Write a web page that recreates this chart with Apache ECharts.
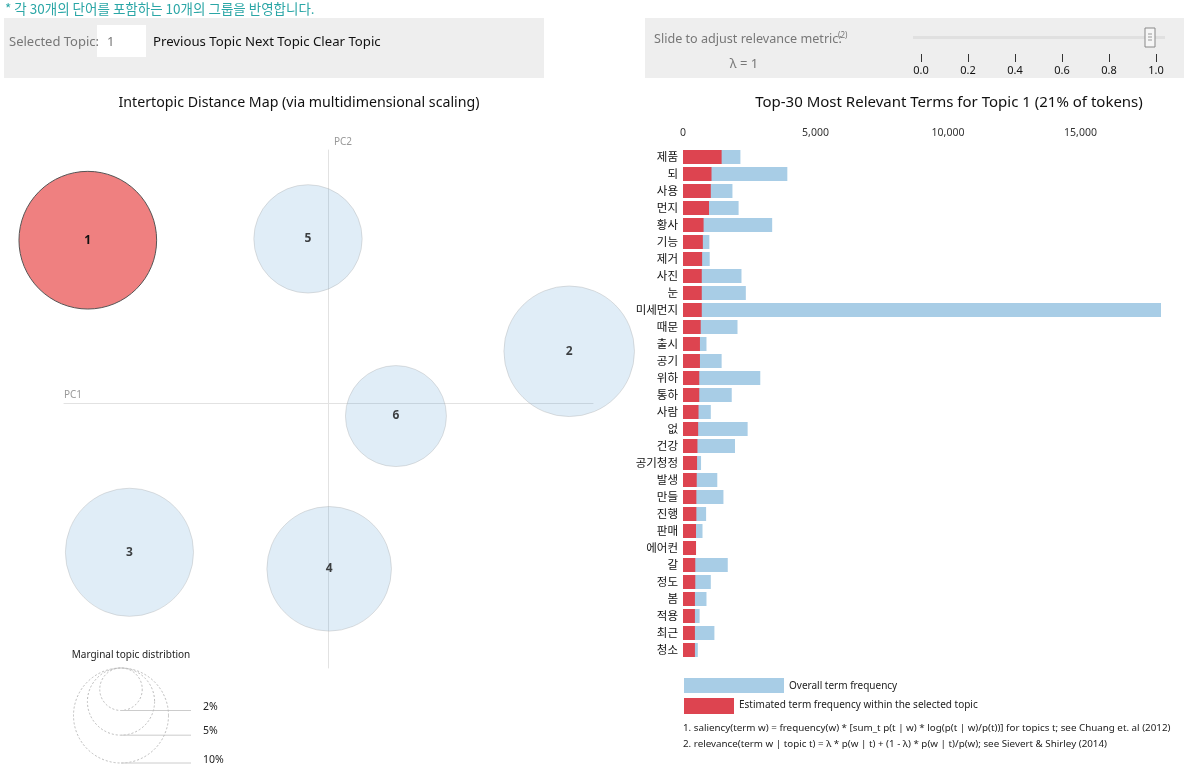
<!DOCTYPE html>
<html>
<head>
<meta charset="utf-8">
<script src="https://cdn.jsdelivr.net/npm/echarts/dist/echarts.min.js"></script>
<style>
html,body{margin:0;padding:0;background:#fff;}
#chart{width:1185px;height:769px;}
</style>
</head>
<body>
<div id="chart"></div>
<script>
// ---------- data ----------
const topicIds = ['1', '2', '3', '4', '5', '6'];
const topicPC1 = [-0.364, 0.364, -0.301, 0.001, -0.031, 0.102];
const topicPC2 = [0.247, 0.079, -0.225, -0.250, 0.249, -0.019];
const topicShare = [21, 18.9, 18.2, 17.2, 13.0, 11.3]; // % of tokens
const selectedTopic = '1';

const terms = ['제품','되','사용','먼지','황사','기능','제거','사진','눈','미세먼지',
  '때문','출시','공기','위하','통하','사람','없','건강','공기청정','발생',
  '만들','진행','판매','에어컨','갈','정도','봄','적용','최근','청소'];
const overallFreq = [2166,3937,1866,2098,3365,995,1008,2207,2371,18038,
  2057,886,1458,2916,1839,1049,2439,1962,681,1294,
  1526,872,736,495,1689,1049,886,627,1185,559];
const topicFreq = [1458,1076,1049,981,777,749,722,708,708,708,
  668,640,640,613,613,586,572,545,531,518,
  504,504,490,490,463,463,450,450,450,450];

const freqTicks = [0, 5000, 10000, 15000];
const lambdaTicks = [0, 0.2, 0.4, 0.6, 0.8, 1.0];
const legendShares = [2, 5, 10];

// ---------- layout / style ----------
const FONT = "'Noto Sans', 'Noto Sans CJK KR', sans-serif";
const KFONT = "'Noto Sans CJK KR', 'Noto Sans', sans-serif";
const R10 = 47.5; // radius (px) of a 10% topic
function radiusOf(p) { return R10 * Math.sqrt(p / 10); }

const scatterData = topicIds.map((id, i) => ({
  name: id,
  value: [topicPC1[i], topicPC2[i], topicShare[i]],
  itemStyle: id === selectedTopic
    ? { color: '#EF8080', borderColor: '#555', borderWidth: 1, opacity: 1 }
    : { color: 'rgba(40,130,200,0.18)', borderColor: 'rgba(170,170,170,0.45)', borderWidth: 1 }
}));

const graphics = [];
function txt(x, y, text, size, color, align, extra) {
  graphics.push(Object.assign({
    type: 'text', x: x, y: y, silent: true,
    style: Object.assign({
      text: text, font: size + 'px ' + FONT, fill: color,
      align: align || 'left', textAlign: align || 'left',
      verticalAlign: 'middle', textVerticalAlign: 'middle'
    }, extra || {})
  }));
}
function rect(x, y, w, h, fill, stroke, z) {
  graphics.push({ type: 'rect', silent: true, z: z || 0, shape: { x: x, y: y, width: w, height: h },
    style: { fill: fill, stroke: stroke || null, lineWidth: stroke ? 1 : 0 } });
}

// header note
txt(5, 9, '* 각 30개의 단어를 포함하는 10개의 그룹을 반영합니다.', 13.5, '#2aa6a6', 'left', { font: '13.5px ' + KFONT });
// panels
rect(4, 18, 540, 60, '#eeeeee');
rect(645, 18, 539, 60, '#eeeeee');
rect(97, 25, 49, 32, '#ffffff');
txt(9, 42, 'Selected Topic:', 13, '#777', 'left');
txt(107, 42, '1', 13, '#777', 'left');
txt(153, 42, 'Previous Topic Next Topic Clear Topic', 13.2, '#111', 'left');
txt(654, 39, 'Slide to adjust relevance metric:', 12.6, '#777', 'left');
txt(838, 36, '(2)', 8, '#777', 'left');
txt(744, 64, 'λ = 1', 13, '#777', 'center');
// slider track & handle
rect(913, 36, 252, 3, '#e0e0e0');
graphics.push({ type: 'rect', silent: true, z: 5, shape: { x: 1145, y: 28, width: 10, height: 19 },
  style: { fill: '#f6f6f6', stroke: '#888', lineWidth: 1 } });
[34, 37, 40].forEach(yy => graphics.push({ type: 'line', silent: true, z: 6,
  shape: { x1: 1148, y1: yy, x2: 1152, y2: yy }, style: { stroke: '#999', lineWidth: 1 } }));

// titles
txt(299, 103, 'Intertopic Distance Map (via multidimensional scaling)', 14.2, '#111', 'center');
txt(949, 103, 'Top-30 Most Relevant Terms for Topic 1 (21% of tokens)', 15, '#111', 'center');
// PC labels
txt(64, 395, 'PC1', 10, '#999', 'left');
txt(334, 142, 'PC2', 10, '#999', 'left');

// marginal topic distribution legend
txt(131, 655, 'Marginal topic distribtion', 10, '#222', 'center');
const legTop = 668, legCx = 121;
const legLabelY = [707, 731, 760];
legendShares.forEach((p, i) => {
  const r = radiusOf(p);
  graphics.push({ type: 'circle', silent: true, shape: { cx: legCx, cy: legTop + r, r: r },
    style: { fill: null, stroke: '#bbb', lineWidth: 1, lineDash: [2, 2] } });
  graphics.push({ type: 'line', silent: true, shape: { x1: legCx, y1: legTop + 2 * r, x2: 191, y2: legTop + 2 * r },
    style: { stroke: '#ccc', lineWidth: 1 } });
  txt(203, legLabelY[i], p + '%', 10.5, '#222', 'left');
});

// bar legend + footnotes
rect(684, 678, 100, 15, '#A8CDE6');
txt(789, 686, 'Overall term frequency', 10, '#222', 'left');
rect(684, 698, 50, 16, '#DD4450');
txt(739, 705, 'Estimated term frequency within the selected topic', 10, '#222', 'left');
txt(683, 728, '1. saliency(term w) = frequency(w) * [sum_t p(t | w) * log(p(t | w)/p(t))] for topics t; see Chuang et. al (2012)', 9.8, '#222', 'left');
txt(683, 744, '2. relevance(term w | topic t) = λ * p(w | t) + (1 - λ) * p(w | t)/p(w); see Sievert & Shirley (2014)', 9.8, '#222', 'left');

const chart = echarts.init(document.getElementById('chart'), null, { renderer: 'canvas' });
chart.setOption({
  animation: false,
  backgroundColor: '#ffffff',
  textStyle: { fontFamily: FONT },
  grid: [
    { left: 64, top: 150, width: 529, height: 518 },
    { left: 683, top: 148.5, width: 478, height: 510 },
    { left: 921, top: 53, width: 235, height: 9 }
  ],
  xAxis: [
    { gridIndex: 0, type: 'value', min: -0.4, max: 0.4,
      axisLine: { show: true, onZero: true, lineStyle: { color: '#e2e2e2' } },
      axisTick: { show: false }, axisLabel: { show: false }, splitLine: { show: false } },
    { gridIndex: 1, type: 'value', position: 'top', min: 0, max: Math.max(...overallFreq), interval: 5000,
      axisLine: { show: false }, axisTick: { show: false }, splitLine: { show: false },
      axisLabel: { showMaxLabel: false, color: '#333', fontSize: 10.5, margin: 10,
        formatter: v => freqTicks.indexOf(v) >= 0 ? v.toLocaleString('en-US') : '' } },
    { gridIndex: 2, type: 'value', position: 'bottom', min: 0, max: 1, interval: 0.2,
      axisLine: { show: false }, splitLine: { show: false },
      axisTick: { show: true, inside: true, length: 8, lineStyle: { color: '#333' } },
      axisLabel: { color: '#111', fontSize: 11, margin: 3,
        formatter: v => lambdaTicks.some(t => Math.abs(t - v) < 1e-9) ? v.toFixed(1) : '' } }
  ],
  yAxis: [
    { gridIndex: 0, type: 'value', min: -0.4, max: 0.3834,
      axisLine: { show: true, onZero: true, lineStyle: { color: '#e2e2e2' } },
      axisTick: { show: false }, axisLabel: { show: false }, splitLine: { show: false } },
    { gridIndex: 1, type: 'category', inverse: true, data: terms,
      axisLine: { show: false }, axisTick: { show: false },
      axisLabel: { color: '#111', fontSize: 11.5, margin: 5, fontFamily: KFONT } },
    { gridIndex: 2, type: 'value', show: false }
  ],
  series: [
    { type: 'scatter', xAxisIndex: 0, yAxisIndex: 0, data: scatterData,
      symbolSize: v => 2 * radiusOf(v[2]),
      label: { show: true, position: 'inside', formatter: p => p.name,
        color: '#111', fontWeight: 'bold', fontSize: 12 },
      emphasis: { disabled: true } },
    { type: 'bar', xAxisIndex: 1, yAxisIndex: 1, data: overallFreq, barWidth: 14,
      itemStyle: { color: '#A8CDE6' }, barGap: '-100%', emphasis: { disabled: true } },
    { type: 'bar', xAxisIndex: 1, yAxisIndex: 1, data: topicFreq, barWidth: 14,
      itemStyle: { color: '#DD4450' }, barGap: '-100%', emphasis: { disabled: true } }
  ],
  graphic: graphics
});
</script>
</body>
</html>
